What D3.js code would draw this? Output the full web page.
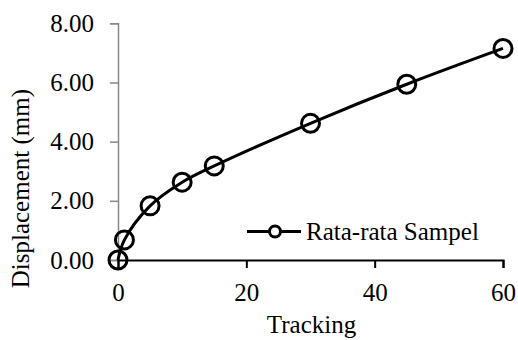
<!DOCTYPE html>
<html>
<head>
<meta charset="utf-8">
<script src="https://cdn.jsdelivr.net/npm/d3@7"></script>
<style>
  html, body { margin: 0; padding: 0; background: #fff; }
</style>
</head>
<body>
<svg id="chart" width="518" height="340"></svg>
<script>
// Average displacement per tracking pass
const tracking = [0, 1, 5, 10, 15, 30, 45, 60];
const displacement = [0.00, 0.68, 1.83, 2.63, 3.18, 4.62, 5.94, 7.15];
const xTicks = [0, 20, 40, 60];
const yTicks = [0, 2, 4, 6, 8];
const seriesName = "Rata-rata Sampel";
const xTitle = "Tracking";
const yTitle = "Displacement (mm)";

const svg = d3.select("#chart");
const fontSize = 25;
const serif = '"Liberation Serif"';

// Apply the serif face to a text selection or group
function serifText(sel) {
  sel.style("font-family", serif).attr("font-size", fontSize);
}

const x = d3.scaleLinear().domain([0, 60]).range([118, 503]);
const y = d3.scaleLinear().domain([0, 8]).range([260, 23.3]);

// Y axis (grey line, outside ticks)
const yAxis = svg.append("g")
  .attr("transform", `translate(${x(0)},0)`)
  .call(d3.axisLeft(y).tickValues(yTicks).tickFormat(d3.format(".2f")).tickSizeOuter(0).tickSize(8).tickPadding(16));
yAxis.select(".domain").attr("stroke", "#888").attr("stroke-width", 1.5);
yAxis.selectAll(".tick line").attr("stroke", "#888").attr("stroke-width", 1.5);
yAxis.selectAll(".tick text").attr("fill", "#000").call(serifText);

// X axis (black line, outside ticks)
const xAxis = svg.append("g")
  .attr("transform", `translate(0,${y(0)})`)
  .call(d3.axisBottom(x).tickValues(xTicks).tickSizeOuter(0).tickSize(8).tickPadding(15));
xAxis.select(".domain").attr("stroke", "#000").attr("stroke-width", 2);
xAxis.selectAll(".tick line").attr("stroke", "#000").attr("stroke-width", 2);
xAxis.selectAll(".tick text").attr("fill", "#000").call(serifText);

// Axis titles
svg.append("text")
  .attr("x", (x(0) + x(60)) / 2 + 1)
  .attr("y", 333)
  .attr("text-anchor", "middle")
  .call(serifText)
  .text(xTitle);

svg.append("text")
  .attr("transform", `translate(29,${(y(0) + y(8)) / 2 + 47}) rotate(-90)`)
  .attr("text-anchor", "middle")
  .call(serifText)
  .text(yTitle);

// Smoothed series line
const pts = tracking.map((t, i) => [t, displacement[i]]);
const line = d3.line()
  .x(d => x(d[0]))
  .y(d => y(d[1]))
  .curve(d3.curveCatmullRom.alpha(0.5));

svg.append("path")
  .datum(pts)
  .attr("d", line)
  .attr("fill", "none")
  .attr("stroke", "#000")
  .attr("stroke-width", 3);

svg.selectAll("circle.pt")
  .data(pts)
  .enter().append("circle")
  .attr("class", "pt")
  .attr("cx", d => x(d[0]))
  .attr("cy", d => y(d[1]))
  .attr("r", 9)
  .attr("fill", "none")
  .attr("stroke", "#000")
  .attr("stroke-width", 3);

// Legend
const lg = svg.append("g");
lg.append("line")
  .attr("x1", 247).attr("x2", 301)
  .attr("y1", 231.5).attr("y2", 231.5)
  .attr("stroke", "#000").attr("stroke-width", 3);
lg.append("circle")
  .attr("cx", 275).attr("cy", 231.5).attr("r", 5.5)
  .attr("fill", "#fff").attr("stroke", "#000").attr("stroke-width", 3);
lg.append("text")
  .attr("x", 306).attr("y", 239.5)
  .call(serifText)
  .text(seriesName);
</script>
</body>
</html>
